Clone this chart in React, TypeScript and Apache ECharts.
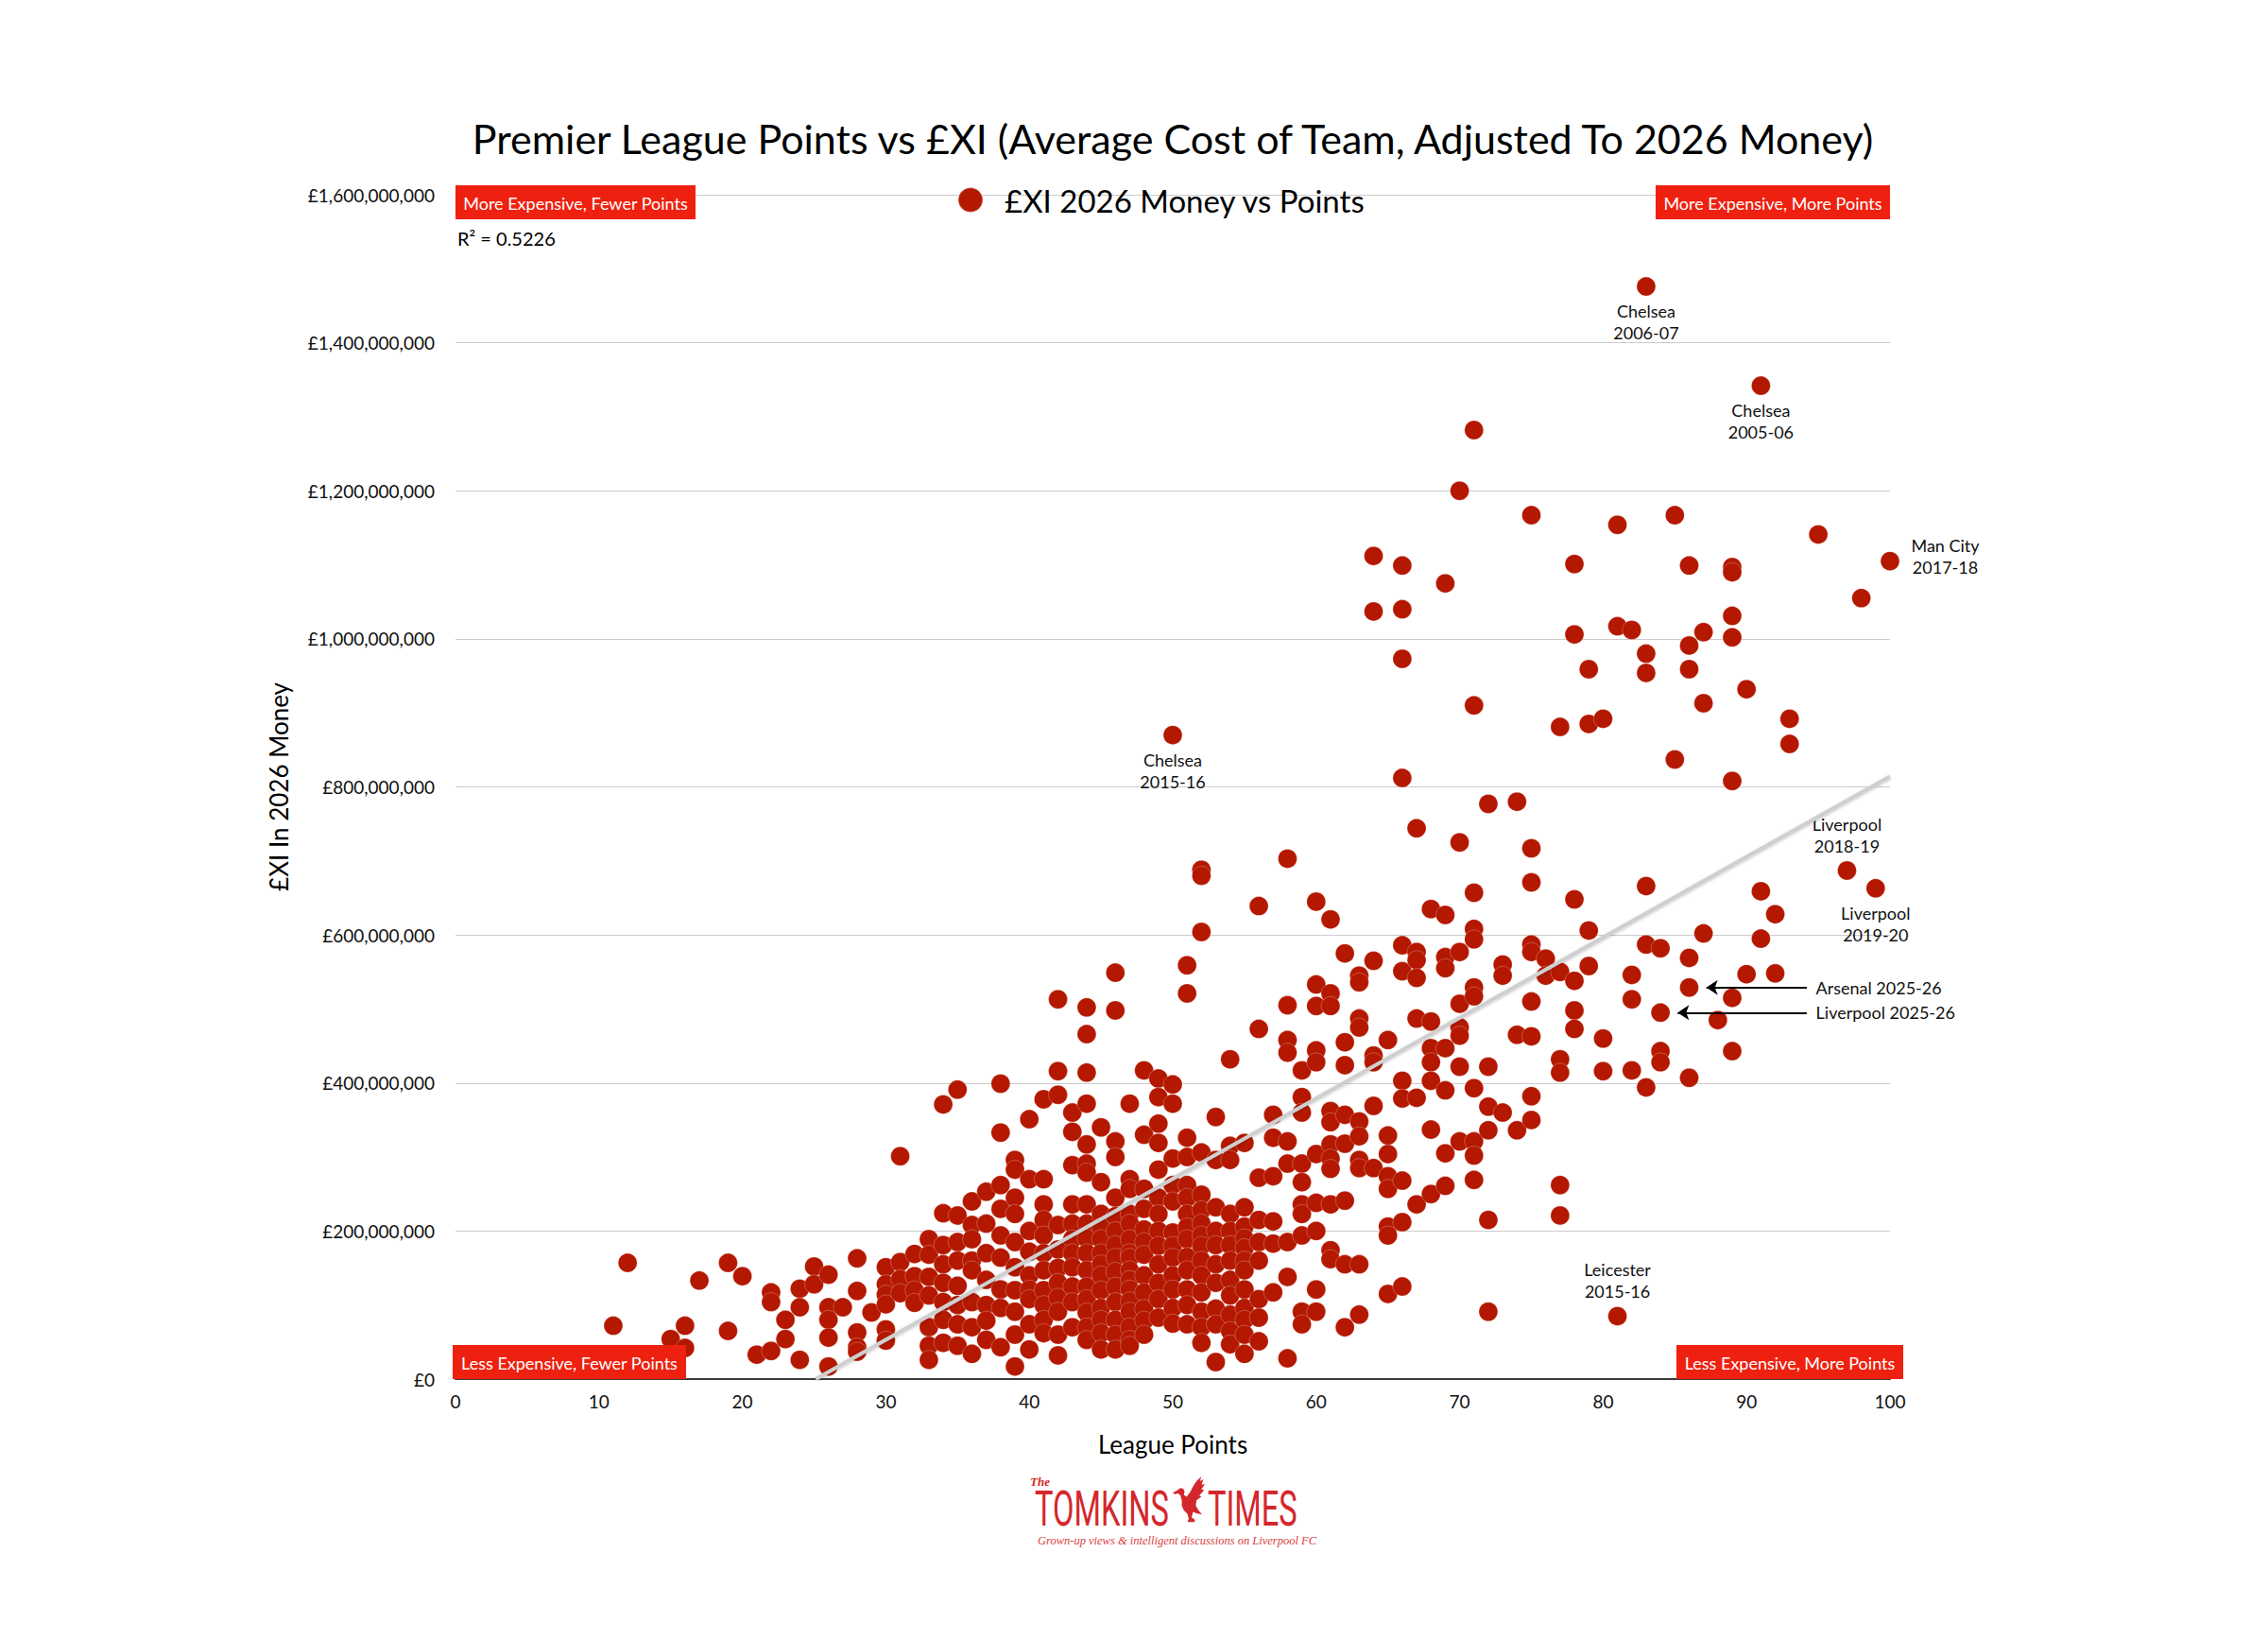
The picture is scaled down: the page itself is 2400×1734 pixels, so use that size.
import React, { useEffect, useRef } from "react";
import * as echarts from "echarts";

// each pair: [league points, £XI in 2026 money, £m]
const seasonsUnder33: [number, number][] = [
  [11, 72], [12, 157], [15, 54], [16, 72], [16, 42], [17, 133], [19, 157], [19, 65], [20, 139],
  [21, 33], [22, 117], [22, 104], [22, 38], [23, 80], [23, 54], [24, 122], [24, 97], [24, 26],
  [25, 152], [25, 128], [26, 141], [26, 97], [26, 80], [26, 56], [26, 17], [27, 97], [28, 163],
  [28, 119], [28, 63], [28, 43], [28, 37], [29, 90], [30, 151], [30, 128], [30, 114], [30, 101],
  [30, 67], [30, 52], [31, 301], [31, 158], [31, 135], [31, 116], [32, 169], [32, 139], [32, 120],
  [32, 103],
];

const seasons33to40: [number, number][] = [
  [33, 189], [33, 168], [33, 138], [33, 113], [33, 70], [33, 45], [33, 26],
  [34, 371], [34, 224], [34, 181], [34, 155], [34, 130], [34, 104], [34, 80], [34, 49],
  [35, 391], [35, 221], [35, 185], [35, 160], [35, 126], [35, 100], [35, 74], [35, 45],
  [36, 240], [36, 208], [36, 189], [36, 160], [36, 147], [36, 104], [36, 70], [36, 34],
  [37, 253], [37, 210], [37, 170], [37, 134], [37, 100], [37, 79], [37, 53],
  [38, 399], [38, 333], [38, 262], [38, 230], [38, 194], [38, 164], [38, 121], [38, 96], [38, 43],
  [39, 296], [39, 283], [39, 245], [39, 223], [39, 185], [39, 151], [39, 120], [39, 91], [39, 60], [39, 17],
  [40, 351], [40, 270], [40, 200], [40, 172], [40, 140], [40, 121], [40, 108], [40, 74], [40, 40],
];

const seasons41to46: [number, number][] = [
  [41, 378], [41, 270], [41, 236], [41, 215], [41, 194], [41, 170], [41, 147], [41, 120], [41, 100], [41, 80], [41, 62],
  [42, 513], [42, 416], [42, 384], [42, 208], [42, 175], [42, 150], [42, 130], [42, 110], [42, 91], [42, 60], [42, 32],
  [43, 360], [43, 334], [43, 289], [43, 236], [43, 210], [43, 189], [43, 170], [43, 151], [43, 125], [43, 104], [43, 70],
  [44, 502], [44, 466], [44, 414], [44, 372], [44, 317], [44, 291], [44, 279], [44, 236], [44, 210], [44, 190],
  [44, 170], [44, 147], [44, 125], [44, 108], [44, 90], [44, 70], [44, 53],
  [45, 340], [45, 266], [45, 223], [45, 205], [45, 189], [45, 170], [45, 155], [45, 140], [45, 120], [45, 96],
  [45, 80], [45, 62], [45, 40],
  [46, 549], [46, 498], [46, 321], [46, 300], [46, 245], [46, 220], [46, 200], [46, 181], [46, 164], [46, 145],
  [46, 125], [46, 104], [46, 80], [46, 60], [46, 40],
];

const seasons47to53: [number, number][] = [
  [47, 372], [47, 270], [47, 257], [47, 223], [47, 210], [47, 189], [47, 170], [47, 164], [47, 147], [47, 134],
  [47, 121], [47, 105], [47, 91], [47, 70], [47, 53], [47, 45],
  [48, 417], [48, 330], [48, 257], [48, 230], [48, 202], [48, 185], [48, 168], [48, 140], [48, 117], [48, 95], [48, 79], [48, 60],
  [49, 406], [49, 381], [49, 345], [49, 319], [49, 283], [49, 245], [49, 223], [49, 200], [49, 180], [49, 155], [49, 130], [49, 108], [49, 83],
  [50, 398], [50, 372], [50, 298], [50, 262], [50, 240], [50, 198], [50, 180], [50, 164], [50, 140], [50, 121], [50, 96], [50, 75],
  [51, 559], [51, 521], [51, 326], [51, 300], [51, 262], [51, 245], [51, 223], [51, 205], [51, 189], [51, 165], [51, 147], [51, 121], [51, 100], [51, 74],
  [52, 688], [52, 680], [52, 604], [52, 306], [52, 249], [52, 228], [52, 210], [52, 194], [52, 180], [52, 160], [52, 140], [52, 117], [52, 91], [52, 70], [52, 49],
  [53, 354], [53, 296], [53, 232], [53, 200], [53, 181], [53, 155], [53, 130], [53, 95], [53, 74], [53, 23],
];

const seasons54to60: [number, number][] = [
  [54, 432], [54, 315], [54, 296], [54, 223], [54, 200], [54, 181], [54, 160], [54, 134], [54, 113], [54, 87], [54, 65], [54, 47],
  [55, 319], [55, 232], [55, 206], [55, 190], [55, 177], [55, 160], [55, 147], [55, 121], [55, 96], [55, 80], [55, 60], [55, 34],
  [56, 639], [56, 473], [56, 272], [56, 215], [56, 185], [56, 160], [56, 108], [56, 83], [56, 51],
  [57, 357], [57, 326], [57, 274], [57, 213], [57, 183], [57, 117],
  [58, 703], [58, 505], [58, 458], [58, 441], [58, 321], [58, 291], [58, 185], [58, 138], [58, 28],
  [59, 417], [59, 381], [59, 360], [59, 291], [59, 266], [59, 236], [59, 223], [59, 194], [59, 91], [59, 74],
  [60, 645], [60, 533], [60, 504], [60, 444], [60, 428], [60, 304], [60, 238], [60, 200], [60, 121], [60, 91],
];

const seasons61to70: [number, number][] = [
  [61, 621], [61, 521], [61, 504], [61, 362], [61, 347], [61, 317], [61, 298], [61, 284], [61, 236], [61, 174], [61, 162],
  [62, 575], [62, 455], [62, 424], [62, 357], [62, 318], [62, 241], [62, 155], [62, 70],
  [63, 545], [63, 536], [63, 487], [63, 475], [63, 348], [63, 328], [63, 296], [63, 285], [63, 155], [63, 87],
  [64, 1112], [64, 1037], [64, 565], [64, 437], [64, 428], [64, 369], [64, 285],
  [65, 458], [65, 329], [65, 304], [65, 274], [65, 257], [65, 206], [65, 194], [65, 115],
  [66, 1099], [66, 1040], [66, 973], [66, 812], [66, 586], [66, 551], [66, 403], [66, 379], [66, 268], [66, 212], [66, 125],
  [67, 744], [67, 577], [67, 566], [67, 542], [67, 487], [67, 380], [67, 236],
  [68, 635], [68, 483], [68, 447], [68, 428], [68, 403], [68, 337], [68, 250],
  [69, 1075], [69, 627], [69, 570], [69, 555], [69, 447], [69, 390], [69, 305], [69, 261],
  [70, 1200], [70, 725], [70, 577], [70, 507], [70, 475], [70, 464], [70, 422], [70, 321],
];

const seasons71to80: [number, number][] = [
  [71, 1282], [71, 910], [71, 657], [71, 608], [71, 594], [71, 529], [71, 517], [71, 393], [71, 321], [71, 302], [71, 269],
  [72, 777], [72, 422], [72, 368], [72, 336], [72, 215], [72, 91],
  [73, 560], [73, 545], [73, 360],
  [74, 780], [74, 465], [74, 336],
  [75, 1167], [75, 717], [75, 671], [75, 587], [75, 577], [75, 510], [75, 463], [75, 382], [75, 350],
  [76, 568], [76, 545],
  [77, 881], [77, 550], [77, 432], [77, 414], [77, 262], [77, 221],
  [78, 1101], [78, 1006], [78, 648], [78, 538], [78, 498], [78, 473],
  [79, 959], [79, 885], [79, 606], [79, 558],
  [80, 892], [80, 460], [80, 416],
];

const seasons81plus: [number, number][] = [
  [81, 1154], [81, 1017],
  [82, 1012], [82, 546], [82, 513], [82, 417],
  [83, 980], [83, 954], [83, 666], [83, 587], [83, 394],
  [84, 582], [84, 443], [84, 428],
  [85, 1167], [85, 837],
  [86, 1099], [86, 991], [86, 959], [86, 569], [86, 407],
  [87, 1009], [87, 913], [87, 602],
  [88, 485],
  [89, 1097], [89, 1090], [89, 1031], [89, 1002], [89, 808], [89, 515], [89, 443],
  [90, 932], [90, 547],
  [91, 659], [91, 595],
  [92, 628], [92, 548],
  [93, 892], [93, 858],
  [95, 1141],
  [98, 1055],
];

const labelledTeams = [
  { name: "Chelsea\n2006-07", pts: 83, costM: 1476 },
  { name: "Chelsea\n2005-06", pts: 91, costM: 1342 },
  { name: "Man City\n2017-18", pts: 100, costM: 1105 },
  { name: "Chelsea\n2015-16", pts: 50, costM: 870 },
  { name: "Liverpool\n2018-19", pts: 97, costM: 687 },
  { name: "Liverpool\n2019-20", pts: 99, costM: 663 },
  { name: "Leicester\n2015-16", pts: 81, costM: 85 },
  { name: "Arsenal 2025-26", pts: 86, costM: 529 },
  { name: "Liverpool 2025-26", pts: 84, costM: 495 },
];

const arrowTeams = ["Arsenal 2025-26", "Liverpool 2025-26"];

// least-squares line as printed on the chart (£m per point)
const trendSlopeM = 10.87;
const trendInterceptM = -273;
const rSquared = "0.5226";

const quadrantLabels = [
  "More Expensive, Fewer Points",
  "More Expensive, More Points",
  "Less Expensive, Fewer Points",
  "Less Expensive, More Points",
];

const SERIES_NAME = "£XI 2026 Money vs Points";
const FONT = 'Lato, "Noto Sans", sans-serif';
const DOT = "#b41800";
const BOX_RED = "#ee2110";
const LOGO_RED = "#d4272c";

const GRID = { left: 482, top: 206, width: 1518, height: 1253 };
const PX_PER_PT = GRID.width / 100;
const SYMBOL = 20;

const birdPath =
  "M8 48 L22 40 L30 34 L38 36 L42 44 L40 54 L48 60 L58 46 L66 30 L76 14 L90 0 L86 14 L96 8 L90 24 L100 22 L90 38 L98 40 L84 56 L90 60 L76 70 L74 86 L82 100 L92 112 L76 108 L66 104 L62 120 L72 128 L70 134 L50 134 L54 124 L50 110 L40 100 L34 86 L34 70 L30 56 L24 50 L14 52 Z";
echarts.graphic.registerShape("liverbird", echarts.graphic.extendPath(birdPath, {}));

const withCommas = (v: number) => String(Math.round(v)).replace(/\B(?=(\d{3})+(?!\d))/g, ",");

const labelPlacement = (name: string, pts: number): any => {
  if (name.startsWith("Man City")) {
    return { position: [69, 5], align: "center", verticalAlign: "middle" };
  }
  if (arrowTeams.includes(name)) {
    return { position: "right", distance: (94.8 - pts) * PX_PER_PT - SYMBOL / 2 };
  }
  if (name.startsWith("Leicester") || name.includes("2018-19")) {
    return { position: "top", distance: 4 };
  }
  return { position: "bottom", distance: 4 };
};

const quadBox = (x: number, y: number, w: number, h: number, text: string) => ({
  type: "group",
  z: 100,
  children: [
    { type: "rect", z: 100, shape: { x, y, width: w, height: h }, style: { fill: BOX_RED } },
    {
      type: "text",
      z: 101,
      style: {
        text,
        x: x + w / 2,
        y: y + h / 2 + 1,
        align: "center",
        verticalAlign: "middle",
        fill: "#ffffff",
        fontSize: 18,
        fontFamily: FONT,
      },
    },
  ],
});

const App: React.FC = () => {
  const chartRef = useRef<HTMLDivElement>(null);

  useEffect(() => {
    const dom = chartRef.current;
    if (!dom) return;
    const chart = echarts.init(dom, null, { renderer: "svg" });

    const plain = [
      ...seasonsUnder33,
      ...seasons33to40,
      ...seasons41to46,
      ...seasons47to53,
      ...seasons54to60,
      ...seasons61to70,
      ...seasons71to80,
      ...seasons81plus,
    ].map(([p, c]) => [p, c * 1e6]);

    const labelled = labelledTeams.map((t) => ({
      value: [t.pts, t.costM * 1e6],
      label: {
        show: true,
        formatter: t.name,
        color: "#111",
        fontSize: 18,
        lineHeight: 23,
        fontFamily: FONT,
        ...labelPlacement(t.name, t.pts),
      },
    }));

    const arrows = labelledTeams
      .filter((t) => arrowTeams.includes(t.name))
      .map((t) => [
        { coord: [94.2, t.costM * 1e6] },
        { coord: [t.pts + 1.2, t.costM * 1e6] },
      ]);

    const trendStart = -trendInterceptM / trendSlopeM;
    const trendData = [
      [trendStart, 0],
      [100, (trendSlopeM * 100 + trendInterceptM) * 1e6],
    ];

    const option: echarts.EChartsOption = {
      animation: false,
      backgroundColor: "#ffffff",
      title: {
        text: "Premier League Points vs £XI (Average Cost of Team, Adjusted To 2026 Money)",
        left: GRID.left + GRID.width / 2,
        textAlign: "center",
        top: 125,
        padding: 0,
        textStyle: { fontSize: 43, fontWeight: "normal", color: "#000", fontFamily: FONT },
      },
      legend: {
        data: [SERIES_NAME],
        left: 1013,
        top: 195,
        padding: 0,
        icon: "circle",
        itemWidth: 26,
        itemHeight: 26,
        textStyle: { fontSize: 33, color: "#000", fontFamily: FONT, padding: [0, 0, 0, 18] },
      },
      grid: GRID,
      xAxis: {
        type: "value",
        min: 0,
        max: 100,
        interval: 10,
        name: "League Points",
        nameLocation: "middle",
        nameGap: 56,
        nameTextStyle: { fontSize: 26, color: "#000", fontFamily: FONT },
        axisLine: { show: true, onZero: false, lineStyle: { color: "#3c3c3c", width: 2 } },
        axisTick: { show: false },
        axisLabel: { fontSize: 19, color: "#111", margin: 14, fontFamily: FONT },
        splitLine: { show: false },
      },
      yAxis: {
        type: "value",
        min: 0,
        max: 1.6e9,
        interval: 2e8,
        name: "£XI In 2026 Money",
        nameLocation: "middle",
        nameGap: 174,
        nameTextStyle: { fontSize: 26, color: "#000", fontFamily: FONT },
        axisLine: { show: false },
        axisTick: { show: false },
        axisLabel: {
          fontSize: 19,
          color: "#111",
          margin: 22,
          fontFamily: FONT,
          formatter: (v: number) => "£" + withCommas(v),
        },
        splitLine: { lineStyle: { color: "#cccccc", width: 1 } },
      },
      graphic: [
        quadBox(482, 196, 254, 36, quadrantLabels[0]),
        quadBox(1752, 196, 248, 36, quadrantLabels[1]),
        quadBox(479, 1423, 247, 36, quadrantLabels[2]),
        quadBox(1774, 1423, 240, 36, quadrantLabels[3]),
        {
          type: "text",
          z: 100,
          x: 484,
          y: 252,
          style: {
            text: "R² = " + rSquared,
            fontSize: 20,
            fill: "#000",
            fontFamily: FONT,
            verticalAlign: "middle",
          },
        },
        {
          type: "text",
          x: 1090,
          y: 1567,
          style: {
            text: "The",
            fontSize: 13,
            fontStyle: "italic",
            fontWeight: "bold",
            fontFamily: '"Liberation Serif", serif',
            fill: LOGO_RED,
            verticalAlign: "middle",
          },
        },
        {
          type: "text",
          x: 1095,
          y: 1596,
          scaleX: 0.64,
          style: {
            text: "TOMKINS",
            fontSize: 51,
            fontFamily: "Roboto, sans-serif",
            fill: LOGO_RED,
            verticalAlign: "middle",
          },
        },
        {
          type: "liverbird",
          x: 1238,
          y: 1562,
          scaleX: 0.37,
          scaleY: 0.36,
          style: { fill: LOGO_RED },
        } as any,
        {
          type: "text",
          x: 1278,
          y: 1596,
          scaleX: 0.64,
          style: {
            text: "TIMES",
            fontSize: 51,
            fontFamily: "Roboto, sans-serif",
            fill: LOGO_RED,
            verticalAlign: "middle",
          },
        },
        {
          type: "text",
          x: 1098,
          y: 1630,
          style: {
            text: "Grown-up views & intelligent discussions on Liverpool FC",
            fontSize: 12.5,
            fontStyle: "italic",
            fontFamily: '"Liberation Serif", serif',
            fill: "#d9413e",
            verticalAlign: "middle",
          },
        },
      ] as any,
      series: [
        {
          name: SERIES_NAME,
          type: "scatter",
          symbol: "circle",
          symbolSize: SYMBOL,
          z: 2,
          itemStyle: { color: DOT, opacity: 1, borderColor: "rgba(255,255,255,0.25)", borderWidth: 1 },
          data: [...plain, ...labelled] as any,
          markLine: {
            silent: true,
            symbol: ["none", "arrow"],
            symbolSize: 12,
            label: { show: false },
            lineStyle: { color: "#000", width: 2, type: "solid" },
            data: arrows as any,
          },
        },
        {
          name: "Trend",
          type: "line",
          silent: true,
          z: 5,
          symbol: "none",
          data: trendData,
          lineStyle: {
            color: "#cfcfcf",
            width: 4,
            shadowColor: "rgba(0,0,0,0.25)",
            shadowBlur: 3,
            shadowOffsetY: 1,
          },
        },
      ],
    };

    chart.setOption(option);
    return () => {
      chart.dispose();
    };
  }, []);

  return (
    <div
      ref={chartRef}
      style={{ position: "absolute", left: 0, top: 0, width: "2400px", height: "1734px" }}
    />
  );
};

export default App;
